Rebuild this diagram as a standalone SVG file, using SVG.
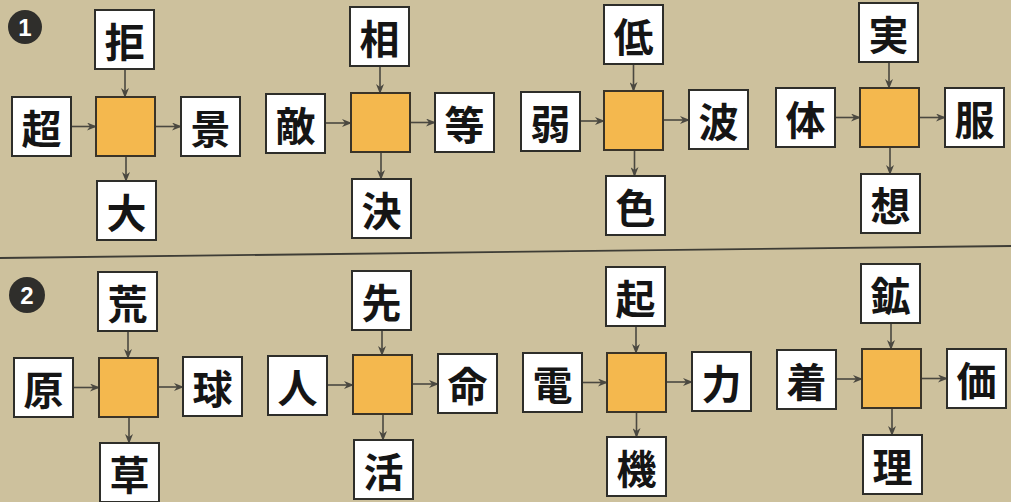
<svg xmlns="http://www.w3.org/2000/svg" width="1011" height="502" viewBox="0 0 1011 502">
<style>
.bg{fill:#cdc19d}
.w{fill:#ffffff;stroke:#2e2e2a;stroke-width:2}
.c{fill:#f4b84e;stroke:#3a3428;stroke-width:2}
.t{font-family:"Noto Sans CJK JP","Noto Sans CJK SC",sans-serif;font-size:40px;font-weight:700;fill:#151515;text-anchor:middle;dominant-baseline:central}
.a{stroke:#4a4840;stroke-width:1.6;fill:none;marker-end:url(#ah)}
.badge{fill:#2f2e2b}
.bn{font-family:"Liberation Sans",Arial,sans-serif;font-size:24px;font-weight:700;fill:#ffffff;text-anchor:middle;dominant-baseline:central}
</style>
<defs>
<marker id="ah" markerWidth="10" markerHeight="8" refX="9" refY="4" orient="auto" markerUnits="userSpaceOnUse">
<path d="M0,0 L10,4 L0,8 L3,4 z" fill="#4a4840"/>
</marker>
</defs>
<rect class="bg" x="0" y="0" width="1011" height="502"/>
<line x1="0" y1="258" x2="1011" y2="246" stroke="#3e3d36" stroke-width="1.8"/>
<g id="badge1"><circle class="badge" cx="25" cy="27" r="17"/><text class="bn" x="25" y="27">1</text></g>
<g id="badge2"><circle class="badge" cx="27" cy="295" r="18"/><text class="bn" x="27" y="295">2</text></g>

<g id="connectors">
<!-- G1 -->
<line class="a" x1="71" y1="126.5" x2="96" y2="126.5"/>
<line class="a" x1="125" y1="69" x2="125" y2="97"/>
<line class="a" x1="155" y1="126.5" x2="181" y2="126.5"/>
<line class="a" x1="126" y1="156" x2="126" y2="181"/>
<!-- G2 -->
<line class="a" x1="325" y1="123" x2="351" y2="123"/>
<line class="a" x1="380" y1="66" x2="380" y2="93"/>
<line class="a" x1="410" y1="122.5" x2="435" y2="122.5"/>
<line class="a" x1="381" y1="152" x2="381" y2="179"/>
<!-- G3 -->
<line class="a" x1="580" y1="121" x2="604" y2="121"/>
<line class="a" x1="633.5" y1="64" x2="633.5" y2="91"/>
<line class="a" x1="663" y1="120" x2="689" y2="120"/>
<line class="a" x1="634.5" y1="150" x2="634.5" y2="176"/>
<!-- G4 -->
<line class="a" x1="835" y1="117.5" x2="860" y2="117.5"/>
<line class="a" x1="889" y1="62" x2="889" y2="88"/>
<line class="a" x1="919" y1="117.5" x2="945" y2="117.5"/>
<line class="a" x1="890" y1="147" x2="890" y2="174"/>
<!-- G5 -->
<line class="a" x1="73" y1="387.5" x2="99" y2="387.5"/>
<line class="a" x1="128" y1="331" x2="128" y2="358"/>
<line class="a" x1="158" y1="387" x2="183" y2="387"/>
<line class="a" x1="129" y1="417" x2="129" y2="443"/>
<!-- G6 -->
<line class="a" x1="327" y1="385" x2="353" y2="385"/>
<line class="a" x1="382" y1="330" x2="382" y2="355"/>
<line class="a" x1="412" y1="384" x2="438" y2="384"/>
<line class="a" x1="383" y1="414" x2="383" y2="440"/>
<!-- G7 -->
<line class="a" x1="582" y1="382.5" x2="607" y2="382.5"/>
<line class="a" x1="636" y1="326" x2="636" y2="353"/>
<line class="a" x1="666" y1="382" x2="692" y2="382"/>
<line class="a" x1="636.5" y1="412" x2="636.5" y2="437"/>
<!-- G8 -->
<line class="a" x1="836" y1="379" x2="862" y2="379"/>
<line class="a" x1="891" y1="323" x2="891" y2="349"/>
<line class="a" x1="921" y1="378.5" x2="947" y2="378.5"/>
<line class="a" x1="892" y1="408" x2="892" y2="435"/>
</g>

<g id="g1">
<g id="n1-top"><rect class="w" x="95" y="10" width="59" height="59"/><text class="t" x="124.5" y="39.5">拒</text></g>
<g id="n1-left"><rect class="w" x="12" y="97" width="59" height="59"/><text class="t" x="41.5" y="126.5">超</text></g>
<g id="n1-center"><rect class="c" x="96" y="97" width="59" height="59"/></g>
<g id="n1-right"><rect class="w" x="181" y="97" width="59" height="59"/><text class="t" x="210.5" y="126.5">景</text></g>
<g id="n1-bottom"><rect class="w" x="97" y="181" width="59" height="59"/><text class="t" x="126.5" y="210.5">大</text></g>
</g>
<g id="g2">
<g id="n2-top"><rect class="w" x="350" y="7" width="59" height="59"/><text class="t" x="379.5" y="36.5">相</text></g>
<g id="n2-left"><rect class="w" x="266" y="94" width="59" height="59"/><text class="t" x="295.5" y="123.5">敵</text></g>
<g id="n2-center"><rect class="c" x="351" y="93" width="59" height="59"/></g>
<g id="n2-right"><rect class="w" x="435" y="93" width="59" height="59"/><text class="t" x="464.5" y="122.5">等</text></g>
<g id="n2-bottom"><rect class="w" x="352" y="179" width="59" height="59"/><text class="t" x="381.5" y="208.5">決</text></g>
</g>
<g id="g3">
<g id="n3-top"><rect class="w" x="604" y="5" width="59" height="59"/><text class="t" x="633.5" y="34.5">低</text></g>
<g id="n3-left"><rect class="w" x="521" y="92" width="59" height="59"/><text class="t" x="550.5" y="121.5">弱</text></g>
<g id="n3-center"><rect class="c" x="604" y="91" width="59" height="59"/></g>
<g id="n3-right"><rect class="w" x="689" y="90" width="59" height="59"/><text class="t" x="718.5" y="119.5">波</text></g>
<g id="n3-bottom"><rect class="w" x="606" y="176" width="59" height="59"/><text class="t" x="635.5" y="205.5">色</text></g>
</g>
<g id="g4">
<g id="n4-top"><rect class="w" x="859" y="3" width="59" height="59"/><text class="t" x="888.5" y="32.5">実</text></g>
<g id="n4-left"><rect class="w" x="776" y="88" width="59" height="59"/><text class="t" x="805.5" y="117.5">体</text></g>
<g id="n4-center"><rect class="c" x="860" y="88" width="59" height="59"/></g>
<g id="n4-right"><rect class="w" x="945" y="88" width="59" height="59"/><text class="t" x="974.5" y="117.5">服</text></g>
<g id="n4-bottom"><rect class="w" x="861" y="174" width="59" height="59"/><text class="t" x="890.5" y="203.5">想</text></g>
</g>
<g id="g5">
<g id="n5-top"><rect class="w" x="98" y="272" width="59" height="59"/><text class="t" x="127.5" y="301.5">荒</text></g>
<g id="n5-left"><rect class="w" x="14" y="358" width="59" height="59"/><text class="t" x="43.5" y="387.5">原</text></g>
<g id="n5-center"><rect class="c" x="99" y="358" width="59" height="59"/></g>
<g id="n5-right"><rect class="w" x="183" y="357" width="59" height="59"/><text class="t" x="212.5" y="386.5">球</text></g>
<g id="n5-bottom"><rect class="w" x="100" y="443" width="59" height="59"/><text class="t" x="129.5" y="472.5">草</text></g>
</g>
<g id="g6">
<g id="n6-top"><rect class="w" x="352" y="271" width="59" height="59"/><text class="t" x="381.5" y="300.5">先</text></g>
<g id="n6-left"><rect class="w" x="268" y="356" width="59" height="59"/><text class="t" x="297.5" y="385.5">人</text></g>
<g id="n6-center"><rect class="c" x="353" y="355" width="59" height="59"/></g>
<g id="n6-right"><rect class="w" x="438" y="354" width="59" height="59"/><text class="t" x="467.5" y="383.5">命</text></g>
<g id="n6-bottom"><rect class="w" x="354" y="440" width="59" height="59"/><text class="t" x="383.5" y="469.5">活</text></g>
</g>
<g id="g7">
<g id="n7-top"><rect class="w" x="606" y="267" width="59" height="59"/><text class="t" x="635.5" y="296.5">起</text></g>
<g id="n7-left"><rect class="w" x="523" y="353" width="59" height="59"/><text class="t" x="552.5" y="382.5">電</text></g>
<g id="n7-center"><rect class="c" x="607" y="353" width="59" height="59"/></g>
<g id="n7-right"><rect class="w" x="692" y="352" width="59" height="59"/><text class="t" x="721.5" y="381.5">力</text></g>
<g id="n7-bottom"><rect class="w" x="607" y="437" width="59" height="59"/><text class="t" x="636.5" y="466.5">機</text></g>
</g>
<g id="g8">
<g id="n8-top"><rect class="w" x="861" y="264" width="59" height="59"/><text class="t" x="890.5" y="293.5">鉱</text></g>
<g id="n8-left"><rect class="w" x="777" y="350" width="59" height="59"/><text class="t" x="806.5" y="379.5">着</text></g>
<g id="n8-center"><rect class="c" x="862" y="349" width="59" height="59"/></g>
<g id="n8-right"><rect class="w" x="947" y="349" width="59" height="59"/><text class="t" x="976.5" y="378.5">価</text></g>
<g id="n8-bottom"><rect class="w" x="863" y="435" width="59" height="59"/><text class="t" x="892.5" y="464.5">理</text></g>
</g>
</svg>
